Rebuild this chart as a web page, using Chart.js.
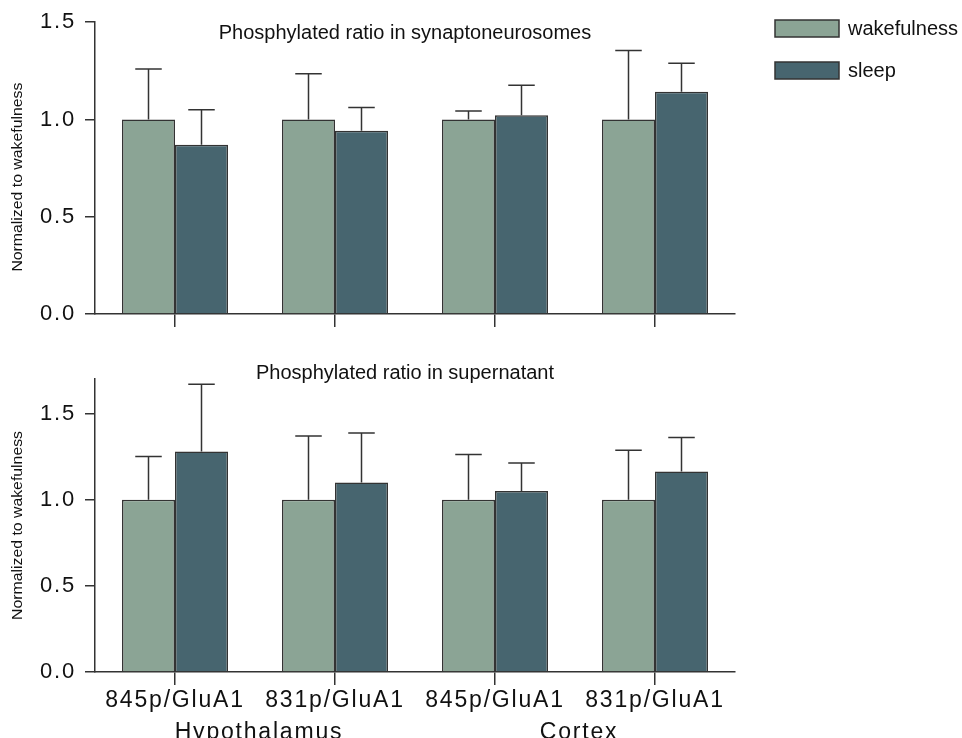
<!DOCTYPE html>
<html>
<head>
<meta charset="utf-8">
<title>Phosphylated ratio</title>
<script src="https://cdn.jsdelivr.net/npm/chart.js@4.4.1/dist/chart.umd.min.js"></script>
<style>
  body { margin: 0; background: #fff; }
  .panel { position: absolute; left: 0; width: 962px; }
  #top { top: 0; height: 340px; }
  #bottom { top: 340px; height: 398px; }
</style>
</head>
<body>
<div class="panel" id="top"><canvas id="chartTop" width="962" height="340"></canvas></div>
<div class="panel" id="bottom"><canvas id="chartBottom" width="962" height="398"></canvas></div>
<script>
// categories and groups
const categories = ['845p/GluA1', '831p/GluA1', '845p/GluA1', '831p/GluA1'];
const groups = ['Hypothalamus', 'Cortex'];
const seriesNames = ['wakefulness', 'sleep'];

// synaptoneurosomes (top panel)
const synWake = [1.0, 1.0, 1.0, 1.0];
const synWakeErr = [0.26, 0.235, 0.043, 0.355];
const synSleep = [0.87, 0.942, 1.022, 1.142];
const synSleepErr = [0.18, 0.12, 0.154, 0.147];

// supernatant (bottom panel)
const supWake = [1.0, 1.0, 1.0, 1.0];
const supWakeErr = [0.25, 0.37, 0.262, 0.287];
const supSleep = [1.28, 1.10, 1.05, 1.163];
const supSleepErr = [0.39, 0.286, 0.163, 0.198];

const yTicksTop = [0, 0.5, 1.0, 1.5];
const yTicksBottom = [0, 0.5, 1.0, 1.5];

const wakeColor = '#8ba495';
const sleepColor = '#47656f';
const lineColor = '#333333';
const textColor = '#111111';
const fontFamily = "'Liberation Sans', Arial, sans-serif";

// error bars, titles, legend and group labels
const decorPlugin = {
    id: 'decor',
    beforeDraw(chart) {
        chart.ctx.letterSpacing = '1.8px';
    },
    afterDatasetsDraw(chart) {
        const ctx = chart.ctx;
        const yScale = chart.scales.y;
        ctx.save();
        ctx.strokeStyle = lineColor;
        ctx.lineWidth = 1.5;
        chart.data.datasets.forEach((ds, i) => {
            const meta = chart.getDatasetMeta(i);
            meta.data.forEach((bar, j) => {
                const yTop = yScale.getPixelForValue(ds.data[j] + ds.errors[j]);
                const half = bar.width / 4;
                ctx.beginPath();
                ctx.moveTo(bar.x, bar.y);
                ctx.lineTo(bar.x, yTop);
                ctx.moveTo(bar.x - half, yTop);
                ctx.lineTo(bar.x + half, yTop);
                ctx.stroke();
            });
        });
        ctx.restore();
    },
    afterDraw(chart, args, opts) {
        const ctx = chart.ctx;
        const area = chart.chartArea;
        ctx.save();
        ctx.letterSpacing = '0px';
        ctx.fillStyle = textColor;

        // panel title
        ctx.font = '20px ' + fontFamily;
        ctx.textAlign = 'center';
        ctx.textBaseline = 'alphabetic';
        ctx.fillText(opts.title, (area.left + area.right) / 2 - 10, area.top + opts.titleOffset);

        // y axis title (stretched like the original)
        ctx.save();
        ctx.translate(18, (area.top + area.bottom) / 2 + opts.yTitleShift);
        ctx.rotate(-Math.PI / 2);
        ctx.scale(1.13, 1);
        ctx.font = '14px ' + fontFamily;
        ctx.textBaseline = 'middle';
        ctx.fillText('Normalized to wakefulness', 0, 0);
        ctx.restore();

        // legend
        if (opts.legend) {
            ctx.font = '20px ' + fontFamily;
            ctx.textAlign = 'left';
            ctx.textBaseline = 'middle';
            chart.data.datasets.forEach((ds, i) => {
                const y = 20 + i * 42;
                ctx.fillStyle = ds.backgroundColor;
                ctx.fillRect(775, y, 64, 17);
                ctx.strokeStyle = lineColor;
                ctx.lineWidth = 1.5;
                ctx.strokeRect(775, y, 64, 17);
                ctx.fillStyle = textColor;
                ctx.fillText(ds.label, 848, y + 9);
            });
        }

        // region labels under pairs of categories
        if (opts.groups) {
            const xs = chart.scales.x;
            ctx.font = '23px ' + fontFamily;
            ctx.letterSpacing = '1.8px';
            ctx.textAlign = 'center';
            ctx.textBaseline = 'alphabetic';
            groups.forEach((g, k) => {
                const cx = (xs.getPixelForValue(2 * k) + xs.getPixelForValue(2 * k + 1)) / 2 + 4;
                ctx.fillText(g, cx, area.bottom + 67);
            });
        }
        ctx.restore();
    }
};

function makeChart(id, wake, wakeErr, sleep, sleepErr, yMax, yTicks, cfg) {
    return new Chart(document.getElementById(id), {
        type: 'bar',
        data: {
            labels: categories,
            datasets: [
                {
                    label: seriesNames[0],
                    data: wake,
                    errors: wakeErr,
                    backgroundColor: wakeColor,
                    borderColor: lineColor,
                    borderWidth: 1.5
                },
                {
                    label: seriesNames[1],
                    data: sleep,
                    errors: sleepErr,
                    backgroundColor: sleepColor,
                    borderColor: lineColor,
                    borderWidth: 1.5
                }
            ]
        },
        options: {
            responsive: false,
            animation: false,
            devicePixelRatio: 1,
            categoryPercentage: 0.6625,
            barPercentage: 1.0,
            layout: { padding: { left: 0, right: 227, top: cfg.padTop, bottom: 0 } },
            plugins: {
                legend: { display: false },
                tooltip: { enabled: false },
                decor: cfg.decor
            },
            scales: {
                x: {
                    offset: true,
                    grid: { offset: false, drawOnChartArea: false, tickLength: 13, color: lineColor, lineWidth: 1.5 },
                    border: { color: lineColor, width: 1.5 },
                    ticks: {
                        display: cfg.showLabels,
                        padding: 2,
                        color: textColor,
                        maxRotation: 0,
                        autoSkip: false,
                        font: { family: fontFamily, size: 23 }
                    },
                    afterFit(s) { s.height = cfg.xHeight; }
                },
                y: {
                    min: 0,
                    max: yMax,
                    grid: { drawOnChartArea: false, tickLength: 10, color: lineColor, lineWidth: 1.5 },
                    border: { color: lineColor, width: 1.5 },
                    afterBuildTicks(s) { s.ticks = yTicks.map(v => ({ value: v })); },
                    ticks: {
                        padding: 9,
                        color: textColor,
                        font: { family: fontFamily, size: 22 },
                        callback: v => v.toFixed(1)
                    },
                    afterFit(s) { s.width = 95; }
                }
            }
        },
        plugins: [decorPlugin]
    });
}

makeChart('chartTop', synWake, synWakeErr, synSleep, synSleepErr, 1.5, yTicksTop, {
    padTop: 21,
    xHeight: 26,
    showLabels: false,
    decor: { title: 'Phosphylated ratio in synaptoneurosomes', titleOffset: 17, yTitleShift: 9, legend: true, groups: false }
});

makeChart('chartBottom', supWake, supWakeErr, supSleep, supSleepErr, 1.7, yTicksBottom, {
    padTop: 39,
    xHeight: 66,
    showLabels: true,
    decor: { title: 'Phosphylated ratio in supernatant', titleOffset: 0, yTitleShift: 0, legend: false, groups: true }
});
</script>
</body>
</html>
